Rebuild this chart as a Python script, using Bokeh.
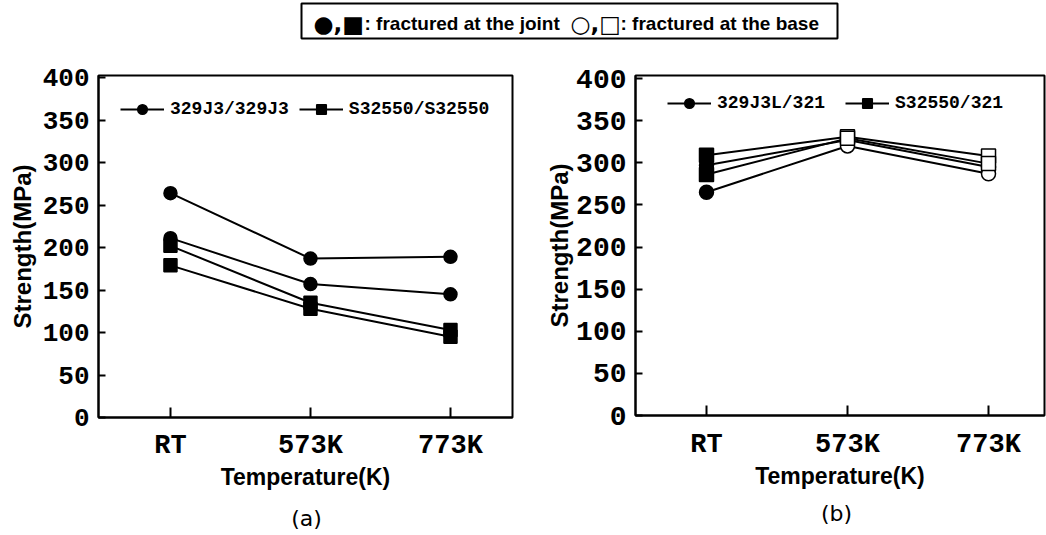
from bokeh.plotting import figure
from bokeh.models import (ColumnDataSource, Range1d, FixedTicker, Legend,
                          LegendItem, Label)
from bokeh.layouts import column, row
from bokeh.embed import file_html
from bokeh.resources import INLINE

# ---------------- data ----------------
temps = ["RT", "573K", "773K"]
y_ticks = [0, 50, 100, 150, 200, 250, 300, 350, 400]

# panel (a): joints of the same steel
a_329j3_1 = [264, 187, 189]
a_329j3_2 = [211, 157, 145]
a_s32550_1 = [202, 135, 103]
a_s32550_2 = [179, 128, 95]
a_fracture = ["joint", "joint", "joint"]
a_labels = ["329J3/329J3", "S32550/S32550"]

# panel (b): dissimilar joints with 321
b_329j3l_1 = [297, 327, 295]
b_329j3l_2 = [265, 320, 287]
b_s32550_1 = [309, 331, 308]
b_s32550_2 = [286, 329, 299]
b_fracture = ["joint", "base", "base"]
b_labels = ["329J3L/321", "S32550/321"]

fill_for = {"joint": "black", "base": "white"}

MONO = "Liberation Mono"
SANS = "Liberation Sans"


def make_panel(circle_series, square_series, fracture, labels,
               frame, borders, xr, ytop, ytick_font, legend_loc,
               msize, xstand, ylab_stand, leg_spacing):
    fw, fh = frame
    bl, br, bt, bb = borders
    p = figure(frame_width=fw, frame_height=fh, x_range=Range1d(*xr),
               y_range=Range1d(0, ytop), output_backend="svg",
               toolbar_location=None, min_border_left=bl, min_border_right=br,
               min_border_top=bt, min_border_bottom=bb)
    p.xgrid.visible = False
    p.ygrid.visible = False
    p.outline_line_color = "black"
    p.outline_line_width = 2
    p.outline_line_alpha = 1
    p.background_fill_color = "white"
    p.border_fill_color = "white"

    xs = list(range(len(temps)))
    fills = [fill_for[f] for f in fracture]
    first = {}
    for kind, series in (("circle", circle_series), ("square", square_series)):
        for vals in series:
            src = ColumnDataSource(dict(x=xs, y=vals, fill=fills))
            lr = p.line("x", "y", source=src, line_color="black", line_width=2)
            first.setdefault(kind, [lr, src])
    for kind, series in (("circle", circle_series), ("square", square_series)):
        for vals in series:
            src = ColumnDataSource(dict(x=xs, y=vals, fill=fills))
            sr = p.scatter("x", "y", source=src, marker=kind, size=msize,
                           fill_color="fill", line_color="black", line_width=1.5)
            if len(first[kind]) == 2:
                first[kind].append(sr)

    items = [LegendItem(label=labels[0], renderers=[first["circle"][0], first["circle"][2]], index=0),
             LegendItem(label=labels[1], renderers=[first["square"][0], first["square"][2]], index=0)]
    leg = Legend(items=items, orientation="horizontal", location=legend_loc,
                 border_line_alpha=0, background_fill_alpha=0, padding=0,
                 margin=0, spacing=leg_spacing, label_standoff=6, glyph_width=44,
                 glyph_height=24, label_height=24,
                 label_text_font=MONO, label_text_font_style="bold",
                 label_text_font_size="18px", label_text_color="black")
    p.add_layout(leg)

    # axes
    p.xaxis.ticker = FixedTicker(ticks=xs)
    p.xaxis.major_label_overrides = {i: t for i, t in enumerate(temps)}
    p.yaxis.ticker = FixedTicker(ticks=y_ticks)
    for ax in (p.xaxis[0], p.yaxis[0]):
        ax.axis_line_color = "black"
        ax.axis_line_width = 2
        ax.major_tick_line_color = "black"
        ax.major_tick_line_width = 2
        ax.minor_tick_line_color = None
        ax.major_tick_out = 0
        ax.major_label_text_font = MONO
        ax.major_label_text_font_style = "bold"
        ax.major_label_text_color = "black"
        ax.axis_label_text_font = SANS
        ax.axis_label_text_font_style = "bold"
        ax.axis_label_text_color = "black"
    p.xaxis.major_tick_in = 10
    p.yaxis.major_tick_in = 7
    p.xaxis.major_label_text_font_size = "27px"
    p.yaxis.major_label_text_font_size = ytick_font
    p.xaxis.major_label_standoff = xstand
    p.yaxis.major_label_standoff = 9
    p.xaxis.axis_label = "Temperature(K)"
    p.yaxis.axis_label = "Strength(MPa)"
    p.xaxis.axis_label_text_font_size = "23px"
    p.yaxis.axis_label_text_font_size = "24px"
    p.xaxis.axis_label_standoff = 0
    p.yaxis.axis_label_standoff = ylab_stand
    return p


def make_caption(text, width, height, xpos, ypos):
    c = figure(width=width, height=height, x_range=Range1d(0, width),
               y_range=Range1d(0, height), output_backend="svg",
               toolbar_location=None, min_border=0)
    c.axis.visible = False
    c.grid.visible = False
    c.outline_line_color = None
    c.add_layout(Label(x=xpos, y=ypos, text=text, text_font="DejaVu Sans",
                       text_font_size="22px", text_align="center",
                       text_baseline="middle", text_color="black"))
    return c


# panel (a): frame 98..512 x 75..417 ; figure 540 x 452 starting at y=40
pa = make_panel([a_329j3_1, a_329j3_2], [a_s32550_1, a_s32550_2], a_fracture,
                a_labels, (414, 342), (98, 28, 35, 75),
                (-0.514, 2.443), 402.4, "26px", (22, 296), 13, 13, 4, 10)
# panel (b): frame 635..1044 x 70..410 ; figure 506 x 452
pb = make_panel([b_329j3l_1, b_329j3l_2], [b_s32550_1, b_s32550_2], b_fracture,
                b_labels, (409, 340), (95, 2, 30, 82),
                (-0.5035, 2.397), 403.6, "28px", (32, 300), 14, 14, 0, 20)

cap_a = make_caption("(a)", 540, 43, 306, 17)
cap_b = make_caption("(b)", 506, 43, 296, 22)

# header key: box 301..837 x 3..38
hd = figure(frame_width=536, frame_height=35, x_range=Range1d(301, 837),
            y_range=Range1d(0, 1), output_backend="svg", toolbar_location=None,
            min_border_left=301, min_border_right=209, min_border_top=3,
            min_border_bottom=2)
hd.axis.visible = False
hd.grid.visible = False
hd.outline_line_color = "black"
hd.outline_line_width = 2
hd.outline_line_alpha = 1
key_parts = [("●,■", 313, "DejaVu Sans", "23px"),
             (": fractured at the joint", 364, "Liberation Sans", "19px"),
             ("○,□", 570, "DejaVu Sans", "23px"),
             (": fractured at the base", 620, "Liberation Sans", "19px")]
for txt, xpos, fnt, fs in key_parts:
    hd.add_layout(Label(x=xpos, y=0.42, text=txt, text_font=fnt,
                        text_font_style="bold", text_font_size=fs,
                        text_baseline="middle", text_color="black"))

layout = column(hd, row(pa, pb, spacing=0), row(cap_a, cap_b, spacing=0),
                spacing=0)
open("out.html", "w").write(file_html(layout, INLINE))
